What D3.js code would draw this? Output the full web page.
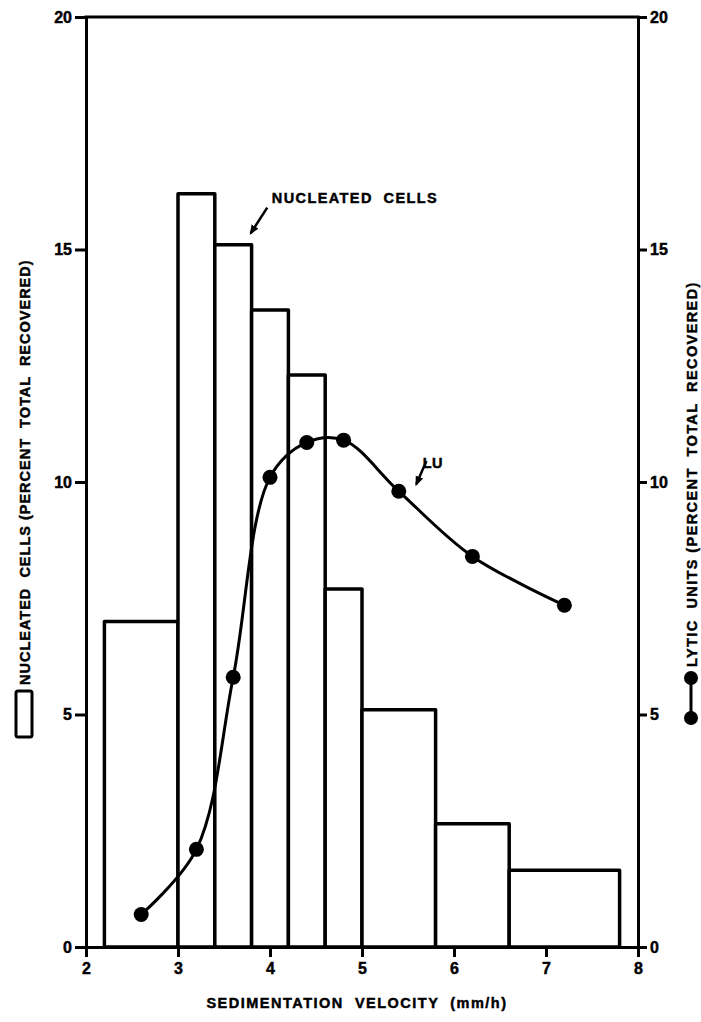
<!DOCTYPE html>
<html><head><meta charset="utf-8">
<script src="https://cdn.jsdelivr.net/npm/d3@7"></script>
<style>
body{margin:0;background:#fff;}
text{font-family:"Liberation Sans",Arial,sans-serif;font-weight:bold;fill:#000;stroke:#000;stroke-width:0.45px;}
</style></head>
<body>
<svg id="chart" width="701" height="1022"></svg>
<script>
// Data
const binStarts = [2.2, 3.0, 3.4, 3.8, 4.2, 4.6, 5.0, 5.8, 6.6];
const binEnds   = [3.0, 3.4, 3.8, 4.2, 4.6, 5.0, 5.8, 6.6, 7.8];
const cellPct   = [7.0, 16.2, 15.1, 13.7, 12.3, 7.7, 5.1, 2.65, 1.65];
const luX       = [2.6, 3.2, 3.6, 4.0, 4.4, 4.8, 5.4, 6.2, 7.2];
const luPct     = [0.7, 2.1, 5.8, 10.1, 10.85, 10.9, 9.8, 8.4, 7.35];
const xTicks    = [2, 3, 4, 5, 6, 7, 8];
const yTicks    = [0, 5, 10, 15, 20];

const svg = d3.select("#chart");
const mLeft = 86, mRight = 638, mTop = 17, mBottom = 947;
const x = d3.scaleLinear().domain([2, 8]).range([mLeft, mRight]);
const yL = d3.scaleLinear().domain([0, 20]).range([mBottom, mTop]);
const yR = d3.scaleLinear().domain([0, 20]).range([mBottom, mTop]);
const FONT = "'Liberation Sans',Arial,sans-serif";

// bars
svg.append("g").selectAll("rect").data(cellPct).join("rect")
  .attr("x", (d,i)=>x(binStarts[i]))
  .attr("width", (d,i)=>x(binEnds[i]) - x(binStarts[i]))
  .attr("y", d=>yL(d))
  .attr("height", d=>yL(0)-yL(d))
  .attr("fill", "#fff").attr("stroke", "#000").attr("stroke-width", 3.5)
  .attr("stroke-linejoin", "round");

// axes
const fmt = d3.format("d");
const gL = svg.append("g").attr("transform", `translate(${mLeft},0)`)
  .call(d3.axisLeft(yL).tickValues(yTicks).tickFormat(fmt).tickSize(11).tickSizeOuter(0).tickPadding(3));
const gR = svg.append("g").attr("transform", `translate(${mRight},0)`)
  .call(d3.axisRight(yR).tickValues(yTicks).tickFormat(fmt).tickSize(9).tickSizeOuter(0).tickPadding(3));
const gB = svg.append("g").attr("transform", `translate(0,${mBottom})`)
  .call(d3.axisBottom(x).tickValues(xTicks).tickFormat(fmt).tickSize(10).tickSizeOuter(0).tickPadding(6));
[gL, gR, gB].forEach(g => {
  g.attr("font-size", 16).attr("font-family", FONT).attr("font-weight", "bold");
  g.selectAll("path,line").attr("stroke", "#000").attr("stroke-width", 3);
  g.selectAll("text").attr("fill", "#000").style("font-size", "16px").style("font-weight", "bold");
});
// top frame
svg.append("line").attr("x1", x(2)-1.5).attr("x2", x(8)+1.5).attr("y1", yL(20)).attr("y2", yL(20))
  .attr("stroke", "#000").attr("stroke-width", 3);

// LU curve
const line = d3.line().x((d,i)=>x(luX[i])).y(d=>yR(d)).curve(d3.curveCatmullRom.alpha(0.5));
svg.append("path").datum(luPct).attr("d", line)
  .attr("fill", "none").attr("stroke", "#000").attr("stroke-width", 3);
svg.append("g").selectAll("circle").data(luPct).join("circle")
  .attr("cx", (d,i)=>x(luX[i])).attr("cy", d=>yR(d)).attr("r", 7.5).attr("fill", "#000");

// annotations
svg.append("defs").append("marker").attr("id","ah").attr("viewBox","0 0 10 10")
  .attr("refX",8).attr("refY",5).attr("markerWidth",4).attr("markerHeight",4).attr("orient","auto")
  .append("path").attr("d","M0,1 L10,5 L0,9 Z").attr("fill","#000");
function arrow(x1,y1,x2,y2){
  svg.append("line").attr("x1",x(x1)).attr("y1",yL(y1)).attr("x2",x(x2)).attr("y2",yL(y2))
    .attr("stroke","#000").attr("stroke-width",2.5).attr("marker-end","url(#ah)");
}
svg.append("text").attr("x", x(4.02)).attr("y", yL(16.0)).style("font-size","14.5px")
  .style("letter-spacing","1.4px").attr("xml:space","preserve")
  .text("NUCLEATED  CELLS");
arrow(3.97, 15.9, 3.79, 15.35);
svg.append("text").attr("x", x(5.66)).attr("y", yL(10.3)).style("font-size","14.5px")
  .style("letter-spacing","0.5px").text("LU");
arrow(5.70, 10.45, 5.59, 9.95);

// axis titles
svg.append("text").attr("x", 357).attr("y", 1008).attr("text-anchor","middle")
  .style("font-size","14.5px").style("letter-spacing","1.5px").attr("xml:space","preserve")
  .text("SEDIMENTATION  VELOCITY  (mm/h)");
svg.append("text").attr("transform","translate(30,685) rotate(-90)")
  .style("font-size","14.5px").style("letter-spacing","1px").attr("xml:space","preserve")
  .text("NUCLEATED  CELLS (PERCENT  TOTAL  RECOVERED)");
svg.append("rect").attr("x",16).attr("y",691).attr("width",16).attr("height",46).attr("rx",2)
  .attr("fill","#fff").attr("stroke","#000").attr("stroke-width",3);
svg.append("text").attr("transform","translate(697,667) rotate(-90)")
  .style("font-size","14.5px").style("letter-spacing","1.4px").attr("xml:space","preserve")
  .text("LYTIC  UNITS (PERCENT  TOTAL  RECOVERED)");
svg.append("line").attr("x1",691).attr("x2",691).attr("y1",678).attr("y2",718).attr("stroke","#000").attr("stroke-width",3);
svg.append("circle").attr("cx",691).attr("cy",678).attr("r",7).attr("fill","#000");
svg.append("circle").attr("cx",691).attr("cy",718).attr("r",7).attr("fill","#000");
</script>
</body></html>
